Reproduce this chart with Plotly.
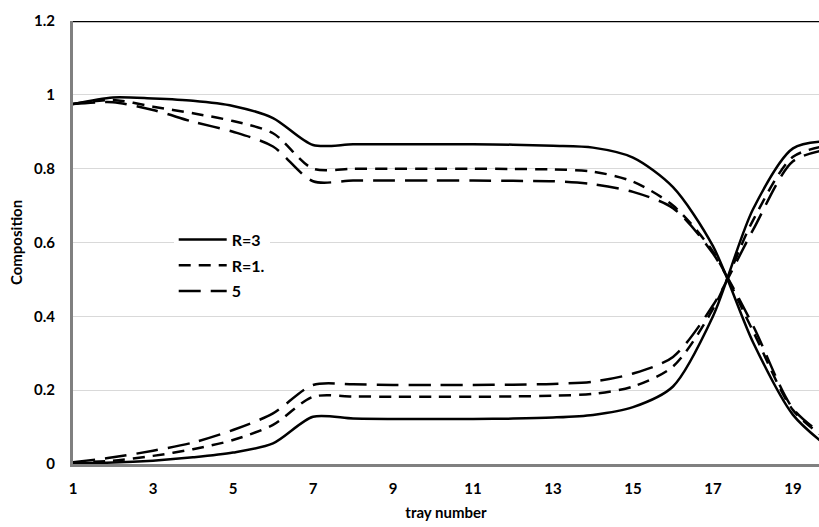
import plotly.graph_objects as go

trays = list(range(1, 21))

# upper (top-product) composition profiles
r3_top = [0.975, 0.993, 0.990, 0.984, 0.970, 0.937, 0.864, 0.866, 0.866, 0.866,
          0.866, 0.865, 0.862, 0.857, 0.830, 0.750, 0.590, 0.330, 0.133, 0.035]
r15_top = [0.975, 0.986, 0.968, 0.950, 0.929, 0.896, 0.800, 0.800, 0.800, 0.800,
           0.800, 0.799, 0.798, 0.792, 0.765, 0.700, 0.575, 0.360, 0.146, 0.055]
r5_top = [0.975, 0.980, 0.959, 0.927, 0.900, 0.860, 0.766, 0.768, 0.768, 0.768,
          0.768, 0.767, 0.766, 0.758, 0.737, 0.693, 0.570, 0.375, 0.150, 0.060]

# lower composition profiles
r3_bot = [0.003, 0.004, 0.009, 0.018, 0.031, 0.056, 0.128, 0.123, 0.122, 0.122,
          0.122, 0.123, 0.126, 0.133, 0.154, 0.210, 0.400, 0.690, 0.855, 0.875]
r15_bot = [0.004, 0.009, 0.022, 0.040, 0.065, 0.106, 0.182, 0.183, 0.182, 0.182,
           0.182, 0.183, 0.185, 0.190, 0.210, 0.264, 0.420, 0.660, 0.832, 0.865]
r5_bot = [0.005, 0.018, 0.036, 0.058, 0.092, 0.137, 0.214, 0.216, 0.214, 0.214,
          0.214, 0.215, 0.217, 0.223, 0.245, 0.290, 0.430, 0.634, 0.820, 0.855]

names = ["R=3", "R=1.", "5"]
x_ticks = [1, 3, 5, 7, 9, 11, 13, 15, 17, 19]
y_ticks = [0, 0.2, 0.4, 0.6, 0.8, 1.0, 1.2]
y_tick_text = ["0", "0.2", "0.4", "0.6", "0.8", "1", "1.2"]

FONT = "Lato"
dashes = ["solid", "12px,8px", "22px,10px"]
tops = [r3_top, r15_top, r5_top]
bots = [r3_bot, r15_bot, r5_bot]

fig = go.Figure()
for i in range(3):
    fig.add_trace(go.Scatter(
        x=trays, y=tops[i], mode="lines", name=names[i], legendgroup=names[i],
        line=dict(color="black", width=2.5, dash=dashes[i], shape="spline", smoothing=0.8),
    ))
    fig.add_trace(go.Scatter(
        x=trays, y=bots[i], mode="lines", name=names[i], legendgroup=names[i],
        showlegend=False,
        line=dict(color="black", width=2.5, dash=dashes[i], shape="spline", smoothing=0.8),
    ))

fig.add_shape(type="line", xref="paper", yref="y", x0=0, x1=1, y0=1.2, y1=1.2,
              line=dict(color="black", width=2.5))

fig.update_layout(
    width=819, height=527,
    margin=dict(l=73, r=0, t=21, b=63),
    paper_bgcolor="white", plot_bgcolor="white",
    font=dict(family=FONT, size=15, color="black"),
    showlegend=True,
    legend=dict(x=0.135, y=0.545, xanchor="left", yanchor="top",
                bgcolor="white", font=dict(family=FONT, size=16, weight=700),
                itemwidth=48, tracegroupgap=2),
    xaxis=dict(range=[1, 19.65], tickvals=x_ticks, showgrid=False,
               showline=True, linecolor="#808080", linewidth=3, zeroline=False,
               ticks="outside", ticklen=9, tickcolor="rgba(0,0,0,0)",
               tickfont=dict(family=FONT, size=15, weight=700),
               title=dict(text="tray number", font=dict(family=FONT, size=15, weight=700),
                          standoff=12)),
    yaxis=dict(range=[0, 1.2], tickvals=y_ticks, ticktext=y_tick_text,
               showgrid=True, gridcolor="#d9d9d9", gridwidth=1,
               showline=True, linecolor="#808080", linewidth=3, zeroline=False,
               ticks="outside", ticklen=12, tickcolor="rgba(0,0,0,0)",
               tickfont=dict(family=FONT, size=15, weight=700),
               title=dict(text="Composition", font=dict(family=FONT, size=15, weight=700),
                          standoff=8)),
)

fig.write_html("out.html")
